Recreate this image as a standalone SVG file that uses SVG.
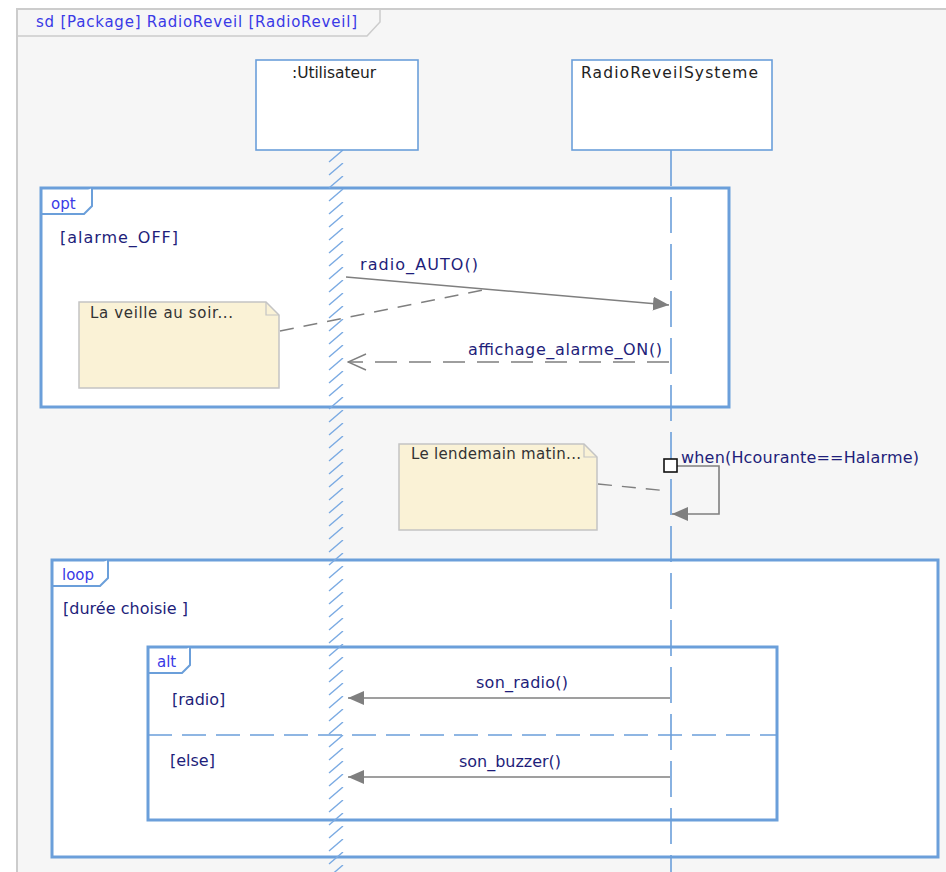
<svg xmlns="http://www.w3.org/2000/svg" width="946" height="872" viewBox="0 0 946 872">
<style>
text{font-family:"DejaVu Sans","Liberation Sans",sans-serif;}
.frame{fill:#ffffff;stroke:#6b9fda;stroke-width:3;}
.tab{fill:#ffffff;stroke:#6b9fda;stroke-width:2;}
.tabtxt{font-size:15px;fill:#3a3ae6;}
.guard{font-size:16px;fill:#1e1e7a;}
.msg{font-size:16px;fill:#1e1e7a;}
.head{fill:#ffffff;stroke:#6b9fda;stroke-width:1.6;}
.headtxt{font-size:15.5px;fill:#222222;}
.note{fill:#faf2d6;stroke:#c4c4c4;stroke-width:1.5;}
.notetxt{font-size:15px;fill:#333333;}
.msgline{stroke:#7f7f7f;stroke-width:1.6;fill:none;}
.anchor{stroke:#7f7f7f;stroke-width:1.4;fill:none;stroke-dasharray:14,10;}
.life{stroke:#6b9fda;stroke-width:1.6;fill:none;}
</style>
<defs>
<marker id="filled" viewBox="0 0 16 14" refX="16" refY="7" markerWidth="16" markerHeight="14" markerUnits="userSpaceOnUse" orient="auto">
<path d="M0,0 L16,7 L0,14 Z" fill="#7f7f7f"/>
</marker>
<marker id="open" viewBox="0 0 20 20" refX="19" refY="10" markerWidth="20" markerHeight="20" markerUnits="userSpaceOnUse" orient="auto">
<path d="M1,2 L19,10 L1,18" fill="none" stroke="#7f7f7f" stroke-width="1.4"/>
</marker>
<pattern id="hatch" patternUnits="userSpaceOnUse" x="326" y="150" width="20" height="13">
<line x1="3" y1="12" x2="17" y2="0" stroke="#7aaae2" stroke-width="1.4"/>
</pattern>
</defs>

<rect x="0" y="0" width="946" height="872" fill="#ffffff"/>
<rect x="17" y="9" width="940" height="880" fill="#f6f6f6" stroke="#cccccc" stroke-width="2"/>

<g id="diagram-frame">
<path d="M17,36 L367,36 L380,22 L380,9" fill="none" stroke="#cccccc" stroke-width="1.5"/>
<text x="36" y="27" class="tabtxt" textLength="321" lengthAdjust="spacing">sd [Package] RadioReveil [RadioReveil]</text>
</g>

<g id="frame-opt">
<rect x="41" y="188" width="688" height="219" class="frame"/>
<path d="M41,214 L84,214 L92,206 L92,188" class="tab"/>
<text x="51" y="209" class="tabtxt">opt</text>
<text x="60" y="243" class="guard" textLength="118" lengthAdjust="spacing">[alarme_OFF]</text>
</g>

<g id="frame-loop">
<rect x="52" y="560" width="886" height="297" class="frame"/>
<path d="M52,586 L100,586 L108,578 L108,560" class="tab"/>
<text x="62" y="580" class="tabtxt">loop</text>
<text x="63" y="614" class="guard" textLength="125" lengthAdjust="spacing">[durée choisie ]</text>
</g>

<g id="frame-alt">
<rect x="148" y="647" width="629" height="173" class="frame"/>
<path d="M148,673 L182,673 L190,665 L190,647" class="tab"/>
<text x="157" y="667" class="tabtxt">alt</text>
<line x1="148" y1="735" x2="777" y2="735" stroke="#6b9fda" stroke-width="1.6" stroke-dasharray="24,10"/>
<text x="172" y="705" class="guard">[radio]</text>
<text x="170" y="766" class="guard">[else]</text>
</g>

<g id="lifeline-utilisateur">
<rect x="326" y="150" width="20" height="722" fill="url(#hatch)"/>
<rect x="256" y="60" width="162" height="90" class="head"/>
<text x="292" y="78" class="headtxt" textLength="84" lengthAdjust="spacing">:Utilisateur</text>
</g>

<g id="lifeline-systeme">
<line x1="671" y1="150" x2="671" y2="872" class="life" stroke-dasharray="36,11"/>
<rect x="572" y="60" width="200" height="90" class="head"/>
<text x="581" y="78" class="headtxt" textLength="177" lengthAdjust="spacing">RadioReveilSysteme</text>
</g>

<g id="note-veille">
<path d="M79,302 L266,302 L279,315 L279,388 L79,388 Z" class="note"/>
<path d="M266,302 L266,315 L279,315" fill="none" stroke="#c4c4c4" stroke-width="1.2"/>
<text x="90" y="318" class="notetxt" textLength="143" lengthAdjust="spacing">La veille au soir...</text>
</g>

<g id="note-lendemain">
<path d="M399,444 L584,444 L597,457 L597,530 L399,530 Z" class="note"/>
<path d="M584,444 L584,457 L597,457" fill="none" stroke="#c4c4c4" stroke-width="1.2"/>
<text x="411" y="459" class="notetxt" textLength="170" lengthAdjust="spacing">Le lendemain matin...</text>
</g>

<g id="connectors">
<line x1="280" y1="331" x2="488" y2="289" class="anchor"/>
<line x1="598" y1="484" x2="668" y2="491" class="anchor"/>
<line x1="346" y1="277" x2="669" y2="305" class="msgline" marker-end="url(#filled)"/>
<text x="360" y="270" class="msg" textLength="118" lengthAdjust="spacing">radio_AUTO()</text>
<line x1="669" y1="362" x2="348" y2="362" class="msgline" stroke-dasharray="22,12" marker-end="url(#open)"/>
<text x="468" y="355" class="msg" textLength="194" lengthAdjust="spacing">affichage_alarme_ON()</text>
<path d="M677,466 L719,466 L719,514 L672,514" class="msgline" marker-end="url(#filled)"/>
<rect x="664" y="459" width="13" height="13" fill="#ffffff" stroke="#111111" stroke-width="1.6"/>
<text x="681" y="463" class="msg" textLength="238" lengthAdjust="spacing">when(Hcourante==Halarme)</text>
<line x1="670" y1="698" x2="348" y2="698" class="msgline" marker-end="url(#filled)"/>
<text x="476" y="688" class="msg" textLength="92" lengthAdjust="spacing">son_radio()</text>
<line x1="670" y1="777" x2="348" y2="777" class="msgline" marker-end="url(#filled)"/>
<text x="459" y="767" class="msg" textLength="102" lengthAdjust="spacing">son_buzzer()</text>
</g>
</svg>
